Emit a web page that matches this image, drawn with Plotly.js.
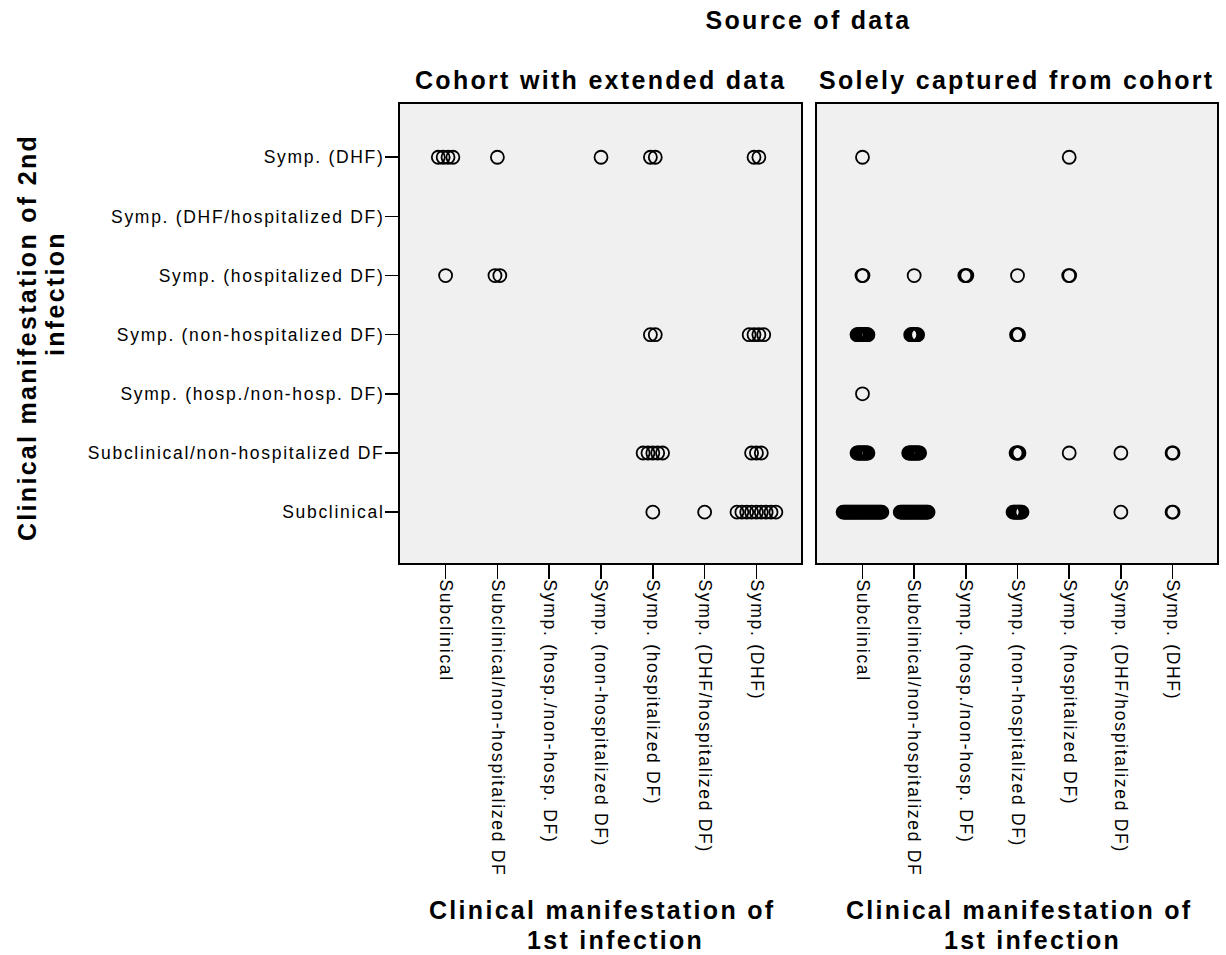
<!DOCTYPE html>
<html>
<head>
<meta charset="utf-8">
<script src="https://cdn.plot.ly/plotly-3.0.1.min.js"></script>
<style>
  html, body { margin: 0; padding: 0; background: #ffffff; }
  #chart { width: 1226px; height: 955px; }
  .xtick text, .x2tick text, .ytick text { letter-spacing: 1.7px; }
  .annotation-text, .gtitle { letter-spacing: 2.3px; }
</style>
</head>
<body>
<div id="chart"></div>
<script>
// Category labels (same order on both axes)
const categories = [
  "Subclinical",
  "Subclinical/non-hospitalized DF",
  "Symp. (hosp./non-hosp. DF)",
  "Symp. (non-hospitalized DF)",
  "Symp. (hospitalized DF)",
  "Symp. (DHF/hospitalized DF)",
  "Symp. (DHF)"
];

// Panel 1: Cohort with extended data (index of 1st infection, index of 2nd infection, number of cases)
const cohortFirst  = [0, 1, 3, 4, 6,  0, 1,  4, 6,  4, 6,  4, 5, 6];
const cohortSecond = [6, 6, 6, 6, 6,  4, 4,  3, 3,  1, 1,  0, 0, 0];
const cohortCount  = [4, 1, 1, 2, 2,  1, 2,  2, 4,  5, 3,  1, 1, 9];

// Panel 2: Solely captured from cohort
const solelyFirst  = [0, 4,  0, 1, 2, 3, 4,  0, 1, 3,  0,  0, 1, 3, 4, 5, 6,  0, 1, 3, 5, 6];
const solelySecond = [6, 6,  4, 4, 4, 4, 4,  3, 3, 3,  2,  1, 1, 1, 1, 1, 1,  0, 0, 0, 0, 0];
const solelyCount  = [1, 1,  2, 1, 3, 1, 2,  12, 8, 3, 1,  12, 12, 4, 1, 1, 2,  40, 29, 10, 1, 2];

// Expand counted cells into individual dots, dodged side by side around the category
function expand(first, second, count) {
  const maxN = Math.max.apply(null, count);
  const step = Math.min(0.1, 0.75 / Math.max(1, maxN - 1));
  const xs = [], ys = [], txt = [];
  for (let i = 0; i < first.length; i++) {
    const n = count[i];
    for (let k = 0; k < n; k++) {
      xs.push(first[i] + (k - (n - 1) / 2) * step);
      ys.push(second[i]);
      txt.push(categories[first[i]] + " → " + categories[second[i]]);
    }
  }
  return { xs, ys, txt };
}

const p1 = expand(cohortFirst, cohortSecond, cohortCount);
const p2 = expand(solelyFirst, solelySecond, solelyCount);

const markerStyle = { symbol: "circle-open", size: 13, color: "#000000", line: { width: 1.8, color: "#000000" } };

const traces = [
  { type: "scatter", mode: "markers", x: p1.xs, y: p1.ys, text: p1.txt, hoverinfo: "text",
    xaxis: "x", yaxis: "y", marker: markerStyle, showlegend: false, name: "Cohort with extended data" },
  { type: "scatter", mode: "markers", x: p2.xs, y: p2.ys, text: p2.txt, hoverinfo: "text",
    xaxis: "x2", yaxis: "y2", marker: markerStyle, showlegend: false, name: "Solely captured from cohort" }
];

const tickFont = { family: "Liberation Sans, Arial, sans-serif", size: 17.5, color: "#000000" };
const boldFont = { family: "Liberation Sans, Arial, sans-serif", size: 25, color: "#000000", weight: "bold" };
const idx = categories.map((c, i) => i);

const xBase = {
  range: [-0.88, 6.86], tickvals: idx, ticktext: categories, tickangle: 90,
  ticks: "outside", ticklen: 14, tickwidth: 1.5, tickcolor: "#000000",
  showline: true, mirror: true, linewidth: 2, linecolor: "#000000",
  showgrid: false, zeroline: false, tickfont: tickFont, fixedrange: true,
  ticklabelstandoff: -3
};
const yBase = {
  range: [-0.86, 6.9], tickvals: idx, ticktext: categories,
  ticks: "outside", ticklen: 13, tickwidth: 1.5, tickcolor: "#000000",
  showline: true, mirror: true, linewidth: 2, linecolor: "#000000",
  showgrid: false, zeroline: false, tickfont: tickFont, fixedrange: true
};

const layout = {
  width: 1226, height: 955,
  margin: { l: 400, r: 9, t: 104, b: 392, pad: 0 },
  paper_bgcolor: "#ffffff", plot_bgcolor: "#f0f0f0",
  showlegend: false,
  title: { text: "Source of data", xref: "paper", x: 0.5, xanchor: "center",
           yref: "container", y: 1 - 20 / 955, yanchor: "middle", font: boldFont },
  xaxis: Object.assign({}, xBase, { domain: [0, 401 / 817], anchor: "y" }),
  xaxis2: Object.assign({}, xBase, { domain: [417 / 817, 1], anchor: "y2" }),
  yaxis: Object.assign({}, yBase, { anchor: "x", ticklabelstandoff: -3 }),
  yaxis2: Object.assign({}, yBase, { anchor: "x2", matches: "y", showticklabels: false, ticks: "" }),
  annotations: [
    { text: "Cohort with extended data", xref: "x domain", x: 0.5, xanchor: "center",
      yref: "paper", y: (563 - 80) / 459, yanchor: "middle", showarrow: false, font: boldFont },
    { text: "Solely captured from cohort", xref: "x2 domain", x: 0.5, xanchor: "center",
      yref: "paper", y: (563 - 80) / 459, yanchor: "middle", showarrow: false, font: boldFont },
    { text: "Clinical manifestation of", xref: "paper", x: (602 - 400) / 817, xanchor: "center",
      yref: "paper", y: (563 - 910) / 459, yanchor: "middle", showarrow: false, font: boldFont },
    { text: "1st infection", xref: "paper", x: (615 - 400) / 817, xanchor: "center",
      yref: "paper", y: (563 - 940) / 459, yanchor: "middle", showarrow: false, font: boldFont },
    { text: "Clinical manifestation of", xref: "paper", x: (1018.5 - 400) / 817, xanchor: "center",
      yref: "paper", y: (563 - 910) / 459, yanchor: "middle", showarrow: false, font: boldFont },
    { text: "1st infection", xref: "paper", x: (1032 - 400) / 817, xanchor: "center",
      yref: "paper", y: (563 - 940) / 459, yanchor: "middle", showarrow: false, font: boldFont },
    { text: "Clinical manifestation of 2nd", textangle: -90, xref: "paper", x: (27 - 400) / 817, xanchor: "center",
      yref: "paper", y: (563 - 338) / 459, yanchor: "middle", showarrow: false, font: boldFont },
    { text: "infection", textangle: -90, xref: "paper", x: (55 - 400) / 817, xanchor: "center",
      yref: "paper", y: (563 - 294) / 459, yanchor: "middle", showarrow: false, font: boldFont }
  ]
};

Plotly.newPlot("chart", traces, layout, { displayModeBar: false, staticPlot: true });
</script>
</body>
</html>
